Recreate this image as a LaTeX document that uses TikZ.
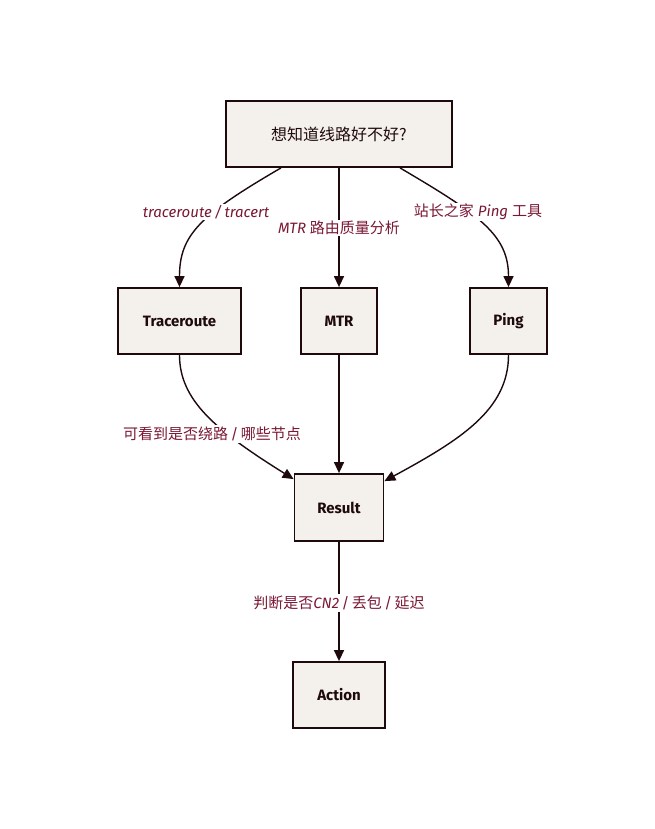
\documentclass[tikz,border=0pt]{standalone}
\usepackage{fontspec}
\setmainfont{Fira Sans}
\newfontfamily\cjk{Noto Sans CJK SC}
\usetikzlibrary{arrows.meta}
\definecolor{ink}{RGB}{30,10,12}
\definecolor{lblc}{RGB}{122,24,52}
\definecolor{paper}{RGB}{244,240,235}
\begin{document}
\begin{tikzpicture}[x=1pt,y=-1pt,
  box/.style={draw=ink, line width=1.8pt, fill=paper, minimum height=66pt, inner sep=0pt,
    font=\fontsize{15}{17}\selectfont\bfseries, text=ink},
  conn/.style={draw=ink, line width=1.4pt, -{Triangle[length=11pt,width=10pt]}},
  lbl/.style={fill=white, inner sep=1.5pt, text=lblc, font=\fontsize{15}{17}\selectfont}]
\useasboundingbox (0,0) rectangle (654,829);
\node[box, minimum width=226pt, font=\fontsize{16}{18}\selectfont\cjk] (top) at (339,134) {想知道线路好不好?};
\node[box, minimum width=123pt] (tr) at (179.5,321) {Traceroute};
\node[box, minimum width=76pt] (mtr) at (339,321) {MTR};
\node[box, minimum width=77pt] (ping) at (508.5,321) {Ping};
\node[box, minimum width=89pt, minimum height=67pt] (res) at (339,507.5) {Result};
\node[box, minimum width=92pt] (act) at (339,695) {Action};

\draw[conn] ([xshift=-58pt]top.south) .. controls (200,215) and (179.5,235) .. (tr.north);
\draw[conn] (top.south) -- (mtr.north);
\draw[conn] ([xshift=61pt]top.south) .. controls (480,215) and (508.5,235) .. (ping.north);
\draw[conn] (tr.south) .. controls (179.5,400) and (215,430) .. ([yshift=-6pt]res.north west);
\draw[conn] (mtr.south) -- (res.north);
\draw[conn] (ping.south) .. controls (508.5,410) and (460,440) .. ([yshift=-8pt]res.north east);
\draw[conn] (res.south) -- (act.north);

\node[lbl] (l1) at (206,212) {\itshape traceroute\,/\,tracert};
\node[lbl] (l2) at (339,228) {\itshape MTR\/ \cjk 路由质量分析};
\node[lbl] (l3) at (478,212) {{\cjk 站长之家} \itshape Ping\/ {\upshape\cjk 工具}};
\node[lbl] (l4) at (212,434) {{\cjk 可看到是否绕路}\,/\,{\cjk 哪些节点}};
\node[lbl] (l5) at (339,603) {{\cjk 判断是否}\itshape CN2\/{\upshape\,/\,\cjk 丢包}{\upshape\,/\,\cjk 延迟}};
\end{tikzpicture}
\end{document}
